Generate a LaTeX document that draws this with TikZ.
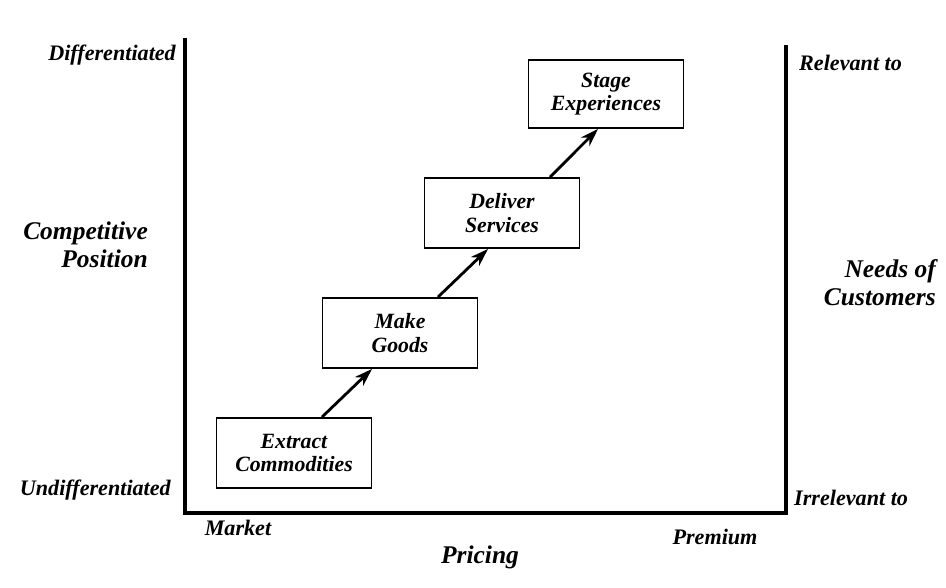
\documentclass[tikz,border=0pt]{standalone}
\usepackage{fontspec}
\setmainfont{Liberation Serif}
\usetikzlibrary{arrows.meta}
\tikzset{
  stagebox/.style={draw,line width=1.1pt,minimum width=3.1cm,minimum height=1.4cm,align=center,inner sep=2pt,font=\fontsize{12.4}{13.4}\selectfont\bfseries\itshape},
  axislabel/.style={font=\fontsize{12.6}{14}\selectfont\bfseries\itshape},
  axistitle/.style={align=right,font=\fontsize{14.5}{16}\selectfont\bfseries\itshape},
  stageline/.style={line width=1.6pt,-{Stealth[length=0.36cm,width=0.24cm]}}
}
\begin{document}
\begin{tikzpicture}
\useasboundingbox (0,0) rectangle (18.92,11.74);
% axes
\coordinate (lt) at (3.7,10.98);
\coordinate (o) at (3.7,1.48);
\coordinate (rb) at (15.72,1.48);
\coordinate (rt) at (15.72,10.84);
\draw[line width=2.2pt] (lt) -- (o) -- (rb) -- (rt);
% stages
\node[stagebox] (ext) at (5.88,2.68) {Extract\\Commodities};
\node[stagebox] (mak) at (8.0,5.08) {Make\\Goods};
\node[stagebox] (del) at (10.04,7.48) {Deliver\\Services};
\node[stagebox,minimum height=1.36cm] (stg) at (12.12,9.86) {Stage\\Experiences};
\draw[stageline] ([xshift=0.56cm]ext.north) -- ([xshift=-0.56cm]mak.south);
\draw[stageline] ([xshift=0.76cm]mak.north) -- ([xshift=-0.28cm]del.south);
\draw[stageline] ([xshift=0.96cm]del.north) -- ([xshift=-0.16cm]stg.south);
% labels
\node[axislabel,anchor=east] (dif) at (3.64,10.64) {Differentiated};
\node[axislabel,anchor=east] (udif) at (3.54,1.94) {Undifferentiated};
\node[axislabel,anchor=west] (rel) at (15.86,10.48) {Relevant to};
\node[axislabel,anchor=west] (irr) at (15.76,1.78) {Irrelevant to};
\node[axislabel] (mkt) at (4.76,1.18) {Market};
\node[axislabel] (prm) at (14.3,1.0) {Premium};
\node[axistitle,anchor=east] (cpos) at (3.08,6.84) {Competitive\\Position};
\node[axistitle,anchor=east] (need) at (18.84,6.08) {Needs of\\Customers};
\node[axistitle] (prc) at (9.6,0.6) {Pricing};
\end{tikzpicture}
\end{document}
